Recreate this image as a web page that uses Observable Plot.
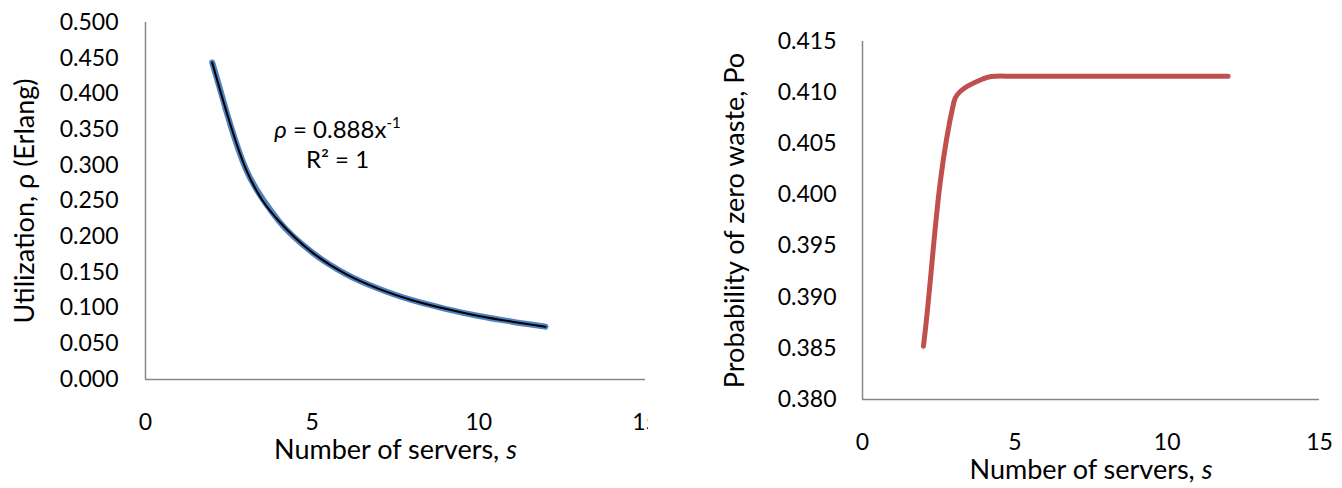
<!DOCTYPE html>
<html>
<head>
<meta charset="utf-8">
<script src="https://cdn.jsdelivr.net/npm/d3@7"></script>
<script src="https://cdn.jsdelivr.net/npm/@observablehq/plot@0.6"></script>
<style>
  html, body { margin: 0; padding: 0; background: white; }
  #wrap { position: relative; width: 1342px; height: 488px; overflow: hidden; }
  #left { position: absolute; left: 0; top: 0; }
  #right { position: absolute; left: 648px; top: 0; }
  svg { overflow: hidden; }
</style>
</head>
<body>
<div id="wrap"><div id="left"></div><div id="right"></div></div>
<script>
// ---- data ----
const servers = [2, 3, 4, 5, 6, 7, 8, 9, 10, 11, 12];
const utilization = [0.444, 0.296, 0.222, 0.178, 0.148, 0.127, 0.111, 0.099, 0.089, 0.081, 0.074];
const probZero = [0.3852, 0.4091, 0.4114, 0.4116, 0.4116, 0.4116, 0.4116, 0.4116, 0.4116, 0.4116, 0.4116];
const xTicks = [0, 5, 10, 15];
const yTicksLeft = [0, 0.05, 0.1, 0.15, 0.2, 0.25, 0.3, 0.35, 0.4, 0.45, 0.5];
const yTicksRight = [0.380, 0.385, 0.390, 0.395, 0.400, 0.405, 0.410, 0.415];
const xTitle = "Number of servers, s";
const yTitleLeft = "Utilization, ρ (Erlang)";
const yTitleRight = "Probability of zero waste, Po";
const eqLine1 = "ρ = 0.888x-1";
const eqLine2 = "R² = 1";

const leftData = servers.map((s, i) => ({s, u: utilization[i]}));
const rightData = servers.map((s, i) => ({s, p: probZero[i]}));

const font = "Lato, 'Noto Sans', sans-serif";
const axisColor = "#868686";
const fmt = d3.format(".3f");
const tickFont = 23;
const titleFont = 27;

// spreadsheet-style smoothing: tangent along neighbours, arms scaled by segment length
function smooth(context) {
  let pts = [];
  return {
    areaStart() {}, areaEnd() {},
    lineStart() { pts = []; },
    point(x, y) { pts.push([+x, +y]); },
    lineEnd() {
      const n = pts.length;
      if (!n) return;
      context.moveTo(pts[0][0], pts[0][1]);
      if (n === 1) return;
      const dir = pts.map((p, i) => {
        const a = pts[Math.max(0, i - 1)], b = pts[Math.min(n - 1, i + 1)];
        const dx = b[0] - a[0], dy = b[1] - a[1];
        const l = Math.hypot(dx, dy) || 1;
        return [dx / l, dy / l];
      });
      for (let i = 0; i < n - 1; i++) {
        const p = pts[i], q = pts[i + 1];
        const L = Math.hypot(q[0] - p[0], q[1] - p[1]) / 3;
        context.bezierCurveTo(
          p[0] + dir[i][0] * L, p[1] + dir[i][1] * L,
          q[0] - dir[i + 1][0] * L, q[1] - dir[i + 1][1] * L,
          q[0], q[1]);
      }
    }
  };
}

const left = Plot.plot({
  width: 648, height: 488,
  marginLeft: 145, marginRight: 3, marginTop: 22, marginBottom: 109,
  x: {domain: [0, 15]},
  y: {domain: [0, 0.5]},
  style: {fontFamily: font, fontSize: tickFont + "px", color: "black", background: "white", overflow: "hidden"},
  marks: [
    Plot.axisY(yTicksLeft, {tickSize: 0, tickPadding: 27, tickFormat: fmt, label: null, fontSize: tickFont}),
    Plot.axisX(xTicks, {tickSize: 0, tickPadding: 34, label: null, fontSize: tickFont}),
    Plot.ruleX([0], {stroke: axisColor, strokeWidth: 1.5}),
    Plot.ruleY([0], {stroke: axisColor, strokeWidth: 1.5}),
    Plot.line(leftData, {x: "s", y: "u", stroke: "#4F81BD", strokeWidth: 6, curve: smooth}),
    Plot.line(leftData, {x: "s", y: "u", stroke: "black", strokeWidth: 2, curve: "natural"}),
    Plot.text([eqLine1], {x: 5.76, y: 0.3487, text: d => d, fontSize: 24, textAnchor: "middle", lineAnchor: "middle"}),
    Plot.text([eqLine2], {x: 5.76, y: 0.3067, text: d => d, fontSize: 24, textAnchor: "middle", lineAnchor: "middle"}),
    Plot.text([xTitle], {frameAnchor: "bottom", dy: 71, text: d => d, fontSize: titleFont, textAnchor: "middle", lineAnchor: "middle"}),
    Plot.text([yTitleLeft], {frameAnchor: "left", dx: -120, rotate: -90, text: d => d, fontSize: titleFont, textAnchor: "middle", lineAnchor: "middle"})
  ]
});

const right = Plot.plot({
  width: 694, height: 488,
  marginLeft: 214, marginRight: 23, marginTop: 41, marginBottom: 89,
  x: {domain: [0, 15]},
  y: {domain: [0.380, 0.415]},
  style: {fontFamily: font, fontSize: tickFont + "px", color: "black", background: "white", overflow: "hidden"},
  marks: [
    Plot.axisY(yTicksRight, {tickSize: 0, tickPadding: 26, tickFormat: fmt, label: null, fontSize: tickFont}),
    Plot.axisX(xTicks, {tickSize: 0, tickPadding: 34, label: null, fontSize: tickFont}),
    Plot.ruleX([0], {stroke: axisColor, strokeWidth: 1.5}),
    Plot.ruleY([0.380], {stroke: axisColor, strokeWidth: 1.5}),
    Plot.line(rightData, {x: "s", y: "p", stroke: "#C0504D", strokeWidth: 5, curve: smooth}),
    Plot.text([xTitle], {frameAnchor: "bottom", dy: 71, text: d => d, fontSize: titleFont, textAnchor: "middle", lineAnchor: "middle"}),
    Plot.text([yTitleRight], {frameAnchor: "left", dx: -127, rotate: -90, text: d => d, fontSize: titleFont, textAnchor: "middle", lineAnchor: "middle"})
  ]
});

// rich-text touches: italic s, italic rho, superscript
function enrich(svg) {
  const ns = "http://www.w3.org/2000/svg";
  svg.querySelectorAll("text").forEach(t => {
    const txt = t.textContent;
    if (txt === xTitle) {
      t.textContent = "";
      t.appendChild(document.createTextNode("Number of servers, "));
      const it = document.createElementNS(ns, "tspan");
      it.setAttribute("font-style", "italic");
      it.textContent = "s";
      t.appendChild(it);
    } else if (txt === eqLine1) {
      t.textContent = "";
      const r = document.createElementNS(ns, "tspan");
      r.setAttribute("font-style", "italic");
      r.textContent = "ρ";
      t.appendChild(r);
      t.appendChild(document.createTextNode(" = 0.888x"));
      const sup = document.createElementNS(ns, "tspan");
      sup.setAttribute("font-size", "15");
      sup.setAttribute("dy", "-10");
      sup.textContent = "-1";
      t.appendChild(sup);
    }
  });
}
enrich(left);
enrich(right);

document.getElementById("left").appendChild(left);
document.getElementById("right").appendChild(right);
</script>
</body>
</html>
